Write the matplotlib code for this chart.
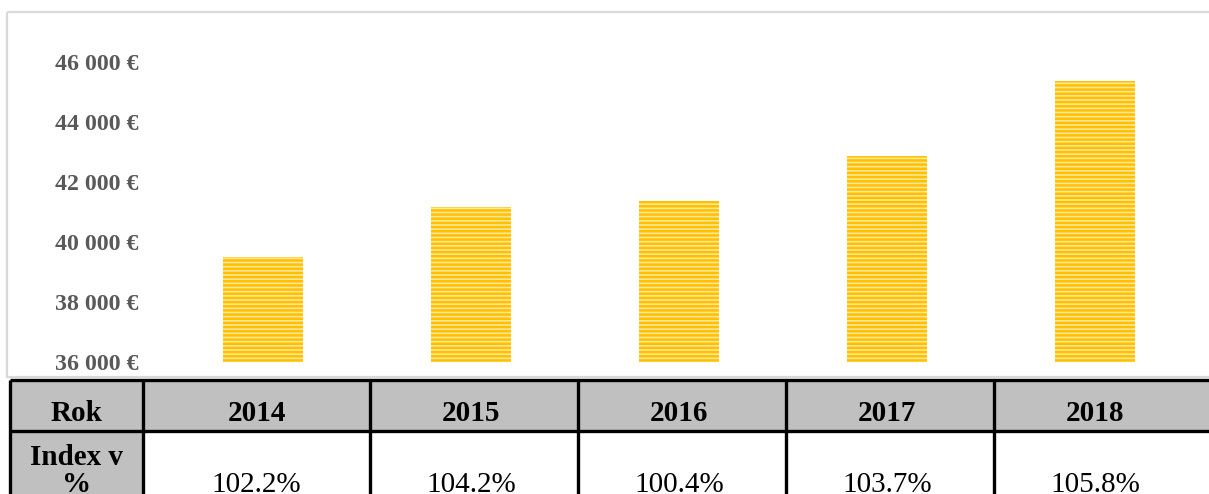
import matplotlib
matplotlib.use("Agg")
import matplotlib.pyplot as plt
from matplotlib.patches import Rectangle

# data
years = ["2014", "2015", "2016", "2017", "2018"]
salary = [39500, 41170, 41370, 42870, 45370]
index_pct = ["102.2%", "104.2%", "100.4%", "103.7%", "105.8%"]
yticks = [36000, 38000, 40000, 42000, 44000, 46000]
row_labels = ["Rok", "Index v\n%"]

plt.rcParams['font.family'] = ['Liberation Serif', 'DejaVu Serif']
plt.rcParams['hatch.color'] = '#FFC000'
plt.rcParams['hatch.linewidth'] = 1.8

W, H = 1209, 494
fig = plt.figure(figsize=(W / 100, H / 100), dpi=100)

# chart area
ax = fig.add_axes([159 / W, 1 - 362 / H, 1040 / W, 300 / H])
x = range(len(years))
ax.bar(x, salary, width=0.385, color='#FFE699', edgecolor='#FFC000',
       linewidth=0, hatch='----')
ax.set_xlim(-0.5, len(years) - 0.5)
ax.set_ylim(yticks[0], yticks[-1])
ax.set_yticks(yticks)
ax.set_yticklabels([f"{v:,.0f} €".replace(",", " ") for v in yticks],
                   fontsize=17.2, fontweight='bold', color='#595959')
ax.tick_params(axis='y', length=0, pad=15)
ax.set_xticks([])
for s in ax.spines.values():
    s.set_visible(False)

# overlay in pixel coords for frame + table below the chart
ov = fig.add_axes([0, 0, 1, 1])
ov.set_xlim(0, W)
ov.set_ylim(H, 0)
ov.axis('off')
ov.patch.set_visible(False)

ov.add_patch(Rectangle((7, 12), W + 20, 365, fill=False,
                       edgecolor='#D9D9D9', linewidth=1.6))

# table: label column, then one column per year
edges = [10, 143, 370] + [370 + 208 * k for k in range(1, len(years) - 1)] + [W + 30]
top, mid, bot = 380, 431, 540
ov.add_patch(Rectangle((edges[0], top), edges[-1] - edges[0], mid - top,
                       facecolor='#C0C0C0', edgecolor='none'))
ov.add_patch(Rectangle((edges[0], mid), edges[1] - edges[0], bot - mid,
                       facecolor='#C0C0C0', edgecolor='none'))
for yy in (top, mid):
    ov.plot([edges[0], edges[-1]], [yy, yy], color='black', lw=2.4,
            solid_capstyle='butt')
for xx in edges[:-1]:
    ov.plot([xx, xx], [top, bot], color='black', lw=2.4, solid_capstyle='butt')

ov.text((edges[0] + edges[1]) / 2, 413, row_labels[0], ha='center', va='center',
        fontsize=21, fontweight='bold')
ov.text((edges[0] + edges[1]) / 2, 471, row_labels[1], ha='center', va='center',
        fontsize=21, fontweight='bold', linespacing=1.0)
for i, (yr, idx) in enumerate(zip(years, index_pct)):
    cx = (edges[1] + edges[2]) / 2 if i == 0 else 263 + 208 * i
    ov.text(cx, 413, yr, ha='center', va='center', fontsize=21,
            fontweight='bold')
    ov.text(cx, 485, idx, ha='center', va='center', fontsize=21)

fig.savefig("out.png", dpi=100)
